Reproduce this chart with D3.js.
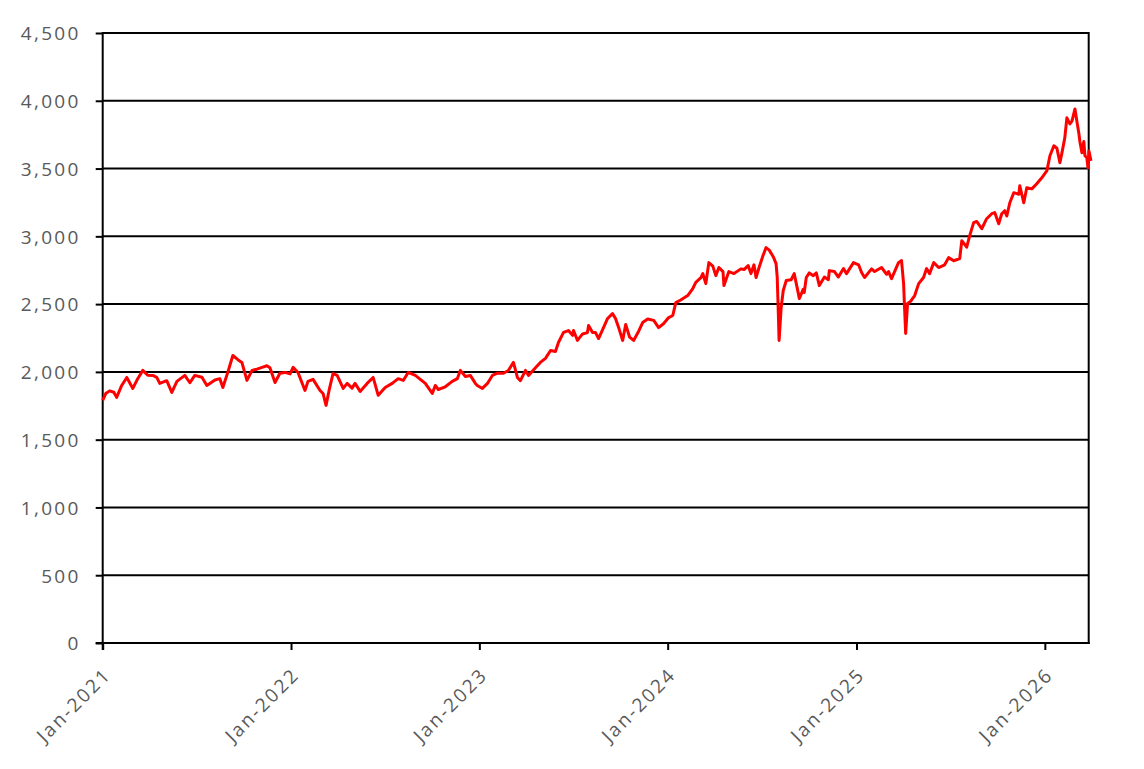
<!DOCTYPE html>
<html>
<head>
<meta charset="utf-8">
<script src="https://cdn.jsdelivr.net/npm/d3@7"></script>
<style>
  html, body { margin: 0; padding: 0; background: #fff; }
  svg { display: block; }
  .tick text { font-family: "Open Sans", "Noto Sans", sans-serif; fill: #595959; }
</style>
</head>
<body>
<svg id="chart" width="1144" height="769"></svg>
<script>
// Time points (decimal years)
const times = [
  2021.000,2021.016,2021.037,2021.059,2021.074,2021.101,2021.128,2021.160,2021.186,2021.213,
  2021.239,2021.266,2021.287,2021.303,2021.340,2021.367,2021.394,2021.436,2021.463,2021.489,
  2021.527,2021.553,2021.596,2021.622,2021.638,2021.665,2021.691,2021.718,2021.739,2021.766,
  2021.793,2021.819,2021.846,2021.872,2021.888,2021.915,2021.941,2021.968,2021.995,2022.011,
  2022.037,2022.074,2022.090,2022.117,2022.154,2022.170,2022.186,2022.202,2022.223,2022.245,
  2022.277,2022.298,2022.324,2022.340,2022.367,2022.404,2022.436,2022.463,2022.500,2022.537,
  2022.569,2022.596,2022.622,2022.660,2022.713,2022.750,2022.766,2022.782,2022.819,2022.856,
  2022.883,2022.899,2022.926,2022.952,2022.979,2022.989,2023.016,2023.043,2023.069,2023.096,
  2023.128,2023.154,2023.181,2023.202,2023.218,2023.245,2023.261,2023.298,2023.324,2023.351,
  2023.378,2023.404,2023.420,2023.447,2023.473,2023.495,2023.500,2023.521,2023.548,2023.574,
  2023.580,2023.601,2023.617,2023.633,2023.654,2023.681,2023.707,2023.723,2023.739,2023.761,
  2023.777,2023.798,2023.819,2023.846,2023.867,2023.894,2023.926,2023.952,2023.979,2024.005,
  2024.027,2024.043,2024.069,2024.106,2024.133,2024.149,2024.176,2024.186,2024.202,2024.218,
  2024.239,2024.255,2024.271,2024.293,2024.298,2024.324,2024.351,2024.388,2024.404,2024.426,
  2024.441,2024.457,2024.468,2024.484,2024.505,2024.521,2024.537,2024.559,2024.574,2024.580,
  2024.585,2024.590,2024.601,2024.612,2024.628,2024.654,2024.670,2024.691,2024.697,2024.718,
  2024.723,2024.734,2024.750,2024.771,2024.787,2024.803,2024.830,2024.851,2024.856,2024.883,
  2024.904,2024.931,2024.947,2024.984,2025.011,2025.027,2025.043,2025.080,2025.096,2025.133,
  2025.160,2025.170,2025.186,2025.223,2025.239,2025.250,2025.255,2025.261,2025.271,2025.287,
  2025.309,2025.330,2025.356,2025.372,2025.388,2025.410,2025.436,2025.468,2025.489,2025.516,
  2025.548,2025.559,2025.585,2025.601,2025.622,2025.638,2025.665,2025.691,2025.718,2025.734,
  2025.755,2025.771,2025.787,2025.798,2025.814,2025.835,2025.862,2025.867,2025.888,2025.904,
  2025.931,2025.957,2025.984,2026.011,2026.027,2026.048,2026.064,2026.080,2026.090,2026.106,
  2026.117,2026.133,2026.144,2026.160,2026.170,2026.181,2026.186,2026.197,2026.207,2026.213,
  2026.223,2026.229,2026.234,2026.245
];
// Index values
const values = [
  1790,1840,1860,1850,1812,1900,1959,1878,1950,2011,
  1975,1974,1960,1915,1935,1849,1930,1974,1920,1974,
  1960,1900,1940,1950,1885,2000,2121,2090,2070,1937,
  2011,2020,2033,2045,2030,1922,1990,1996,1985,2033,
  1996,1863,1930,1945,1863,1841,1753,1863,1988,1974,
  1878,1915,1880,1915,1856,1915,1959,1827,1885,1915,
  1950,1937,1996,1974,1915,1841,1900,1870,1890,1930,
  1950,2011,1966,1974,1915,1900,1878,1915,1974,1990,
  1990,2010,2070,1959,1935,2011,1974,2030,2070,2100,
  2158,2150,2217,2291,2305,2270,2305,2232,2280,2290,
  2342,2290,2290,2246,2310,2394,2430,2394,2330,2232,
  2350,2256,2232,2300,2364,2390,2380,2327,2357,2401,
  2416,2511,2530,2563,2615,2660,2696,2725,2651,2806,
  2780,2710,2770,2740,2637,2740,2725,2760,2755,2784,
  2725,2790,2696,2770,2858,2917,2900,2850,2799,2700,
  2475,2232,2475,2600,2674,2680,2725,2585,2541,2610,
  2585,2696,2730,2710,2730,2637,2700,2680,2747,2740,
  2700,2762,2725,2806,2790,2733,2696,2760,2740,2770,
  2720,2740,2688,2806,2821,2651,2475,2283,2504,2520,
  2563,2651,2696,2762,2725,2806,2770,2790,2843,2820,
  2836,2968,2920,3005,3101,3110,3056,3130,3167,3175,
  3093,3167,3189,3150,3248,3322,3310,3373,3248,3358,
  3350,3388,3432,3484,3594,3668,3650,3543,3610,3727,
  3874,3830,3850,3940,3850,3756,3700,3616,3700,3594,
  3580,3506,3630,3557
];
const yTicks = [0,500,1000,1500,2000,2500,3000,3500,4000,4500];
const xTickYears = [2021,2022,2023,2024,2025,2026];

function decToDate(t) {
  const y = Math.floor(t);
  const start = new Date(y, 0, 1), end = new Date(y + 1, 0, 1);
  return new Date(start.getTime() + (t - y) * (end - start));
}
const data = times.map((t, i) => ({ date: decToDate(t), value: values[i] }));

const svg = d3.select("#chart");
const m = { left: 102.7, right: 1088.7, top: 33, bottom: 643 };

const x = d3.scaleTime()
  .domain([new Date(2021, 0, 1), new Date(2026, 2, 27)])
  .range([m.left, m.right]);
const y = d3.scaleLinear().domain([0, 4500]).range([m.bottom, m.top]);

// gridlines
svg.append("g")
  .selectAll("line").data(yTicks.filter(d => d > 0)).join("line")
  .attr("x1", m.left).attr("x2", m.right)
  .attr("y1", d => y(d)).attr("y2", d => y(d))
  .attr("stroke", "#000").attr("stroke-width", 2);

// right border
svg.append("line")
  .attr("x1", m.right).attr("x2", m.right)
  .attr("y1", m.top - 1).attr("y2", m.bottom + 1)
  .attr("stroke", "#000").attr("stroke-width", 2);

// y axis
const yAxis = svg.append("g")
  .attr("transform", `translate(${m.left},0)`)
  .call(d3.axisLeft(y).tickValues(yTicks).tickSize(7).tickPadding(15)
        .tickFormat(d3.format(",")));
yAxis.selectAll("path, line").attr("stroke", "#000").attr("stroke-width", 2);
yAxis.select(".domain").attr("d", `M0,${m.bottom + 7}V${m.top - 1}`);
yAxis.selectAll("text").style("font-size", "19px").style("letter-spacing", "2.3px").attr("dy", "0.36em");

// x axis
const xAxis = svg.append("g")
  .attr("transform", `translate(0,${m.bottom})`)
  .call(d3.axisBottom(x).tickValues(xTickYears.map(yv => new Date(yv, 0, 1)))
        .tickSize(7).tickFormat(d3.timeFormat("%b-%Y")));
xAxis.selectAll("path, line").attr("stroke", "#000").attr("stroke-width", 2);
xAxis.select(".domain").attr("d", `M${m.left - 7},0H${m.right + 1}`);
xAxis.selectAll("text")
  .style("font-size", "19px")
  .style("letter-spacing", "2.3px")
  .attr("text-anchor", "end")
  .attr("x", 0).attr("y", 0)
  .attr("dy", null)
  .attr("transform", "translate(9,33) rotate(-45)");

// line
svg.append("path")
  .datum(data)
  .attr("fill", "none")
  .attr("stroke", "#ff0000")
  .attr("stroke-width", 3)
  .attr("stroke-linejoin", "round")
  .attr("d", d3.line().x(d => x(d.date)).y(d => y(d.value)));
</script>
</body>
</html>
